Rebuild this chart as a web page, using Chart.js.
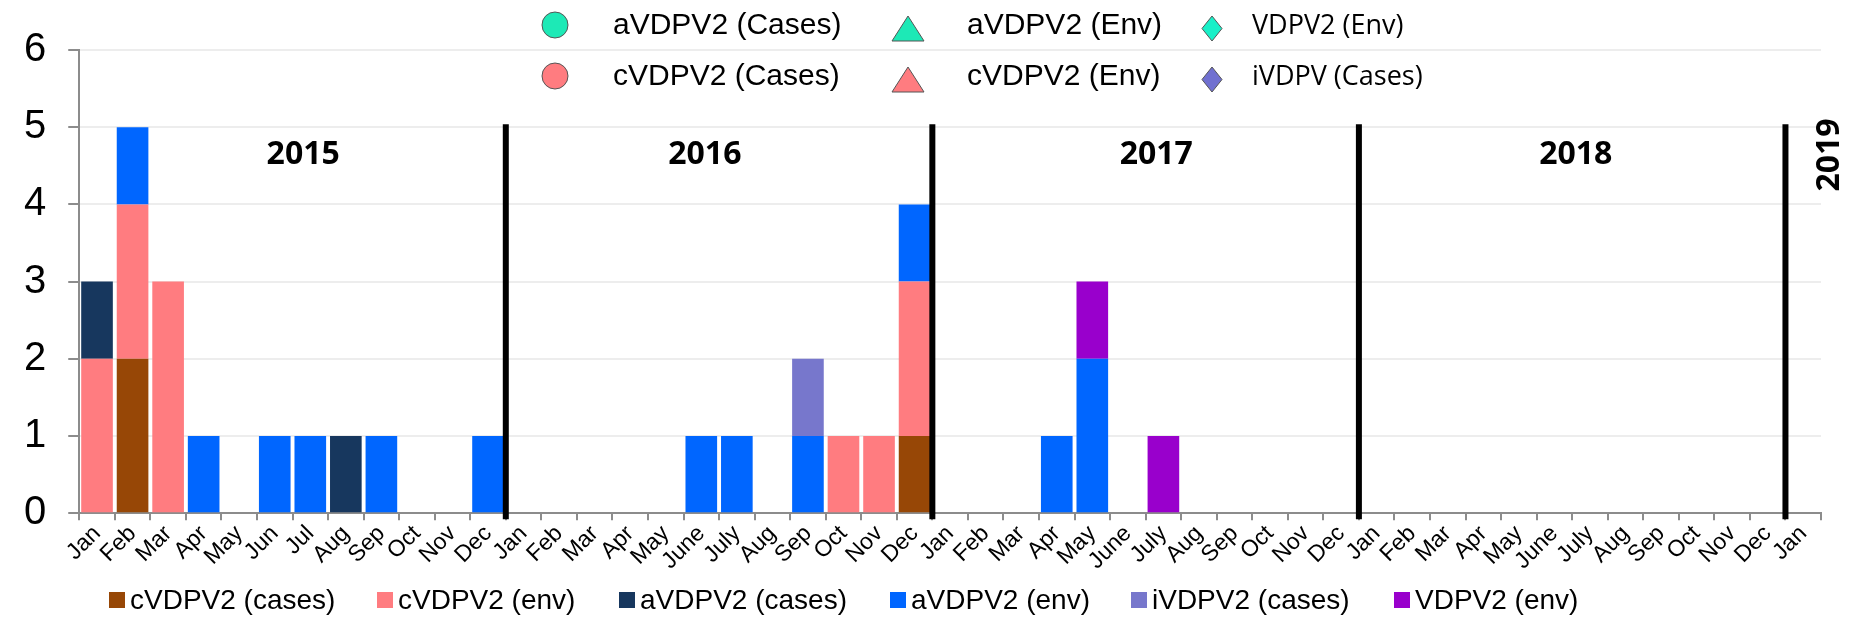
<!DOCTYPE html>
<html>
<head>
<meta charset="utf-8">
<script src="https://cdn.jsdelivr.net/npm/chart.js@4.4.1/dist/chart.umd.min.js"></script>
<style>
  html, body { margin: 0; padding: 0; background: #fff; }
</style>
</head>
<body>
<canvas id="chart" width="1854" height="623"></canvas>
<script>
// month labels: 2015 uses short names, later years use June/July
const months2015 = ['Jan','Feb','Mar','Apr','May','Jun','Jul','Aug','Sep','Oct','Nov','Dec'];
const monthsLater = ['Jan','Feb','Mar','Apr','May','June','July','Aug','Sep','Oct','Nov','Dec'];
const categories = months2015.concat(monthsLater, monthsLater, monthsLater, ['Jan']);

const years = ['2015', '2016', '2017', '2018'];
const lastYear = '2019';

// counts per month, Jan 2015 .. Jan 2019
const cVDPV2Cases = [
  0,2,0,0,0,0,0,0,0,0,0,0,
  0,0,0,0,0,0,0,0,0,0,0,1,
  0,0,0,0,0,0,0,0,0,0,0,0,
  0,0,0,0,0,0,0,0,0,0,0,0,
  0];
const cVDPV2Env = [
  2,2,3,0,0,0,0,0,0,0,0,0,
  0,0,0,0,0,0,0,0,0,1,1,2,
  0,0,0,0,0,0,0,0,0,0,0,0,
  0,0,0,0,0,0,0,0,0,0,0,0,
  0];
const aVDPV2Cases = [
  1,0,0,0,0,0,0,1,0,0,0,0,
  0,0,0,0,0,0,0,0,0,0,0,0,
  0,0,0,0,0,0,0,0,0,0,0,0,
  0,0,0,0,0,0,0,0,0,0,0,0,
  0];
const aVDPV2Env = [
  0,1,0,1,0,1,1,0,1,0,0,1,
  0,0,0,0,0,1,1,0,1,0,0,1,
  0,0,0,1,2,0,0,0,0,0,0,0,
  0,0,0,0,0,0,0,0,0,0,0,0,
  0];
const iVDPV2Cases = [
  0,0,0,0,0,0,0,0,0,0,0,0,
  0,0,0,0,0,0,0,0,1,0,0,0,
  0,0,0,0,0,0,0,0,0,0,0,0,
  0,0,0,0,0,0,0,0,0,0,0,0,
  0];
const VDPV2Env = [
  0,0,0,0,0,0,0,0,0,0,0,0,
  0,0,0,0,0,0,0,0,0,0,0,0,
  0,0,0,0,1,0,1,0,0,0,0,0,
  0,0,0,0,0,0,0,0,0,0,0,0,
  0];

const ARIAL = '"Liberation Sans", Arial, sans-serif';
const CALIBRI = '"Open Sans", "Noto Sans", sans-serif';

function bar(label, data, color) {
  return {
    label: label,
    data: data,
    backgroundColor: color,
    borderWidth: 0,
    barPercentage: 0.89,
    categoryPercentage: 1.0
  };
}

// year dividers + year labels
const yearMarks = {
  id: 'yearMarks',
  afterDatasetsDraw(chart) {
    const {ctx, scales: {x, y}, chartArea} = chart;
    const step = x.getPixelForValue(1) - x.getPixelForValue(0);
    ctx.save();
    ctx.strokeStyle = '#000';
    ctx.lineWidth = 6;
    for (let i = 1; i <= 4; i++) {
      const px = x.getPixelForValue(i * 12) - step / 2;
      ctx.beginPath();
      ctx.moveTo(px, y.getPixelForValue(5) - 3);
      ctx.lineTo(px, chartArea.bottom + 6);
      ctx.stroke();
    }
    ctx.fillStyle = '#000';
    ctx.font = 'bold 32px ' + CALIBRI;
    ctx.textAlign = 'center';
    ctx.textBaseline = 'middle';
    const ly = y.getPixelForValue(4.64);
    const offs = [0.3, -0.4, 0.3, 0.1];
    years.forEach((yr, i) => {
      const cx = x.getPixelForValue(i * 12 + 5.5 + offs[i]);
      ctx.fillText(yr, cx, ly);
    });
    ctx.translate(x.getPixelForValue(48) + 27, ly);
    ctx.rotate(-Math.PI / 2);
    ctx.fillText(lastYear, 0, 0);
    ctx.restore();
  }
};

// marker legend at the top (series drawn as symbols in the original)
const markerItems = [
  {shape: 'circle',   fill: '#1de9b6', text: 'aVDPV2 (Cases)', font: ARIAL,   col: 0, row: 0},
  {shape: 'triangle', fill: '#1de9b6', text: 'aVDPV2 (Env)',   font: ARIAL,   col: 1, row: 0},
  {shape: 'diamond',  fill: '#19f0c8', text: 'VDPV2 (Env)',    font: CALIBRI, col: 2, row: 0},
  {shape: 'circle',   fill: '#ff7c80', text: 'cVDPV2 (Cases)', font: ARIAL,   col: 0, row: 1},
  {shape: 'triangle', fill: '#ff7c80', text: 'cVDPV2 (Env)',   font: ARIAL,   col: 1, row: 1},
  {shape: 'diamond',  fill: '#7070d0', text: 'iVDPV (Cases)',  font: CALIBRI, col: 2, row: 1}
];
const markerLegend = {
  id: 'markerLegend',
  afterDraw(chart) {
    const ctx = chart.ctx;
    const colMarker = [555, 908, 1212];
    const colText = [613, 967, 1252];
    const rowY = [25, 76];
    ctx.save();
    markerItems.forEach(it => {
      const mx = colMarker[it.col], my = rowY[it.row];
      ctx.fillStyle = it.fill;
      ctx.strokeStyle = '#555';
      ctx.lineWidth = 1;
      ctx.beginPath();
      if (it.shape === 'circle') {
        ctx.arc(mx, my, 13, 0, Math.PI * 2);
      } else if (it.shape === 'triangle') {
        ctx.moveTo(mx, my - 9);
        ctx.lineTo(mx + 16, my + 16);
        ctx.lineTo(mx - 16, my + 16);
        ctx.closePath();
      } else {
        ctx.moveTo(mx, my - 9);
        ctx.lineTo(mx + 10, my + 3.5);
        ctx.lineTo(mx, my + 16);
        ctx.lineTo(mx - 10, my + 3.5);
        ctx.closePath();
      }
      ctx.fill();
      ctx.stroke();
      ctx.fillStyle = '#000';
      ctx.textAlign = 'left';
      ctx.textBaseline = 'middle';
      ctx.font = (it.font === ARIAL ? '30px ' : '27px ') + it.font;
      ctx.fillText(it.text, colText[it.col], my + 1);
    });
    ctx.restore();
  }
};

// bar legend along the bottom, built from the datasets
const barLegend = {
  id: 'barLegend',
  afterDraw(chart) {
    const ctx = chart.ctx;
    const boxX = [109, 377, 619, 890, 1131, 1394];
    const cy = 600;
    ctx.save();
    ctx.font = '28px ' + ARIAL;
    ctx.textAlign = 'left';
    ctx.textBaseline = 'middle';
    chart.data.datasets.forEach((ds, i) => {
      ctx.fillStyle = ds.backgroundColor;
      ctx.fillRect(boxX[i], cy - 8, 16, 16);
      ctx.fillStyle = '#000';
      ctx.fillText(ds.label, boxX[i] + 21, cy + 1);
    });
    ctx.restore();
  }
};

new Chart(document.getElementById('chart'), {
  type: 'bar',
  data: {
    labels: categories,
    datasets: [
      bar('cVDPV2 (cases)', cVDPV2Cases, '#974706'),
      bar('cVDPV2 (env)', cVDPV2Env, '#ff7c80'),
      bar('aVDPV2 (cases)', aVDPV2Cases, '#17375e'),
      bar('aVDPV2 (env)', aVDPV2Env, '#0066ff'),
      bar('iVDPV2 (cases)', iVDPV2Cases, '#7777cc'),
      bar('VDPV2 (env)', VDPV2Env, '#9900cc')
    ]
  },
  options: {
    responsive: false,
    animation: false,
    devicePixelRatio: 1,
    layout: { padding: { top: 50, right: 33, left: 2, bottom: 48 } },
    plugins: {
      tooltip: { enabled: false },
      legend: { display: false }
    },
    scales: {
      x: {
        stacked: true,
        grid: { drawOnChartArea: false, tickLength: 7, color: '#8c8c8c', lineWidth: 2 },
        border: { color: '#8c8c8c', width: 2 },
        ticks: {
          autoSkip: false,
          minRotation: 45,
          maxRotation: 45,
          padding: 0,
          color: '#000',
          font: { family: ARIAL, size: 23 }
        }
      },
      y: {
        stacked: true,
        min: 0,
        max: 6,
        grid: { color: '#ededed', lineWidth: 2, tickColor: '#8c8c8c', tickLength: 11 },
        border: { color: '#8c8c8c', width: 2 },
        ticks: {
          stepSize: 1,
          padding: 22,
          color: '#000',
          font: { family: ARIAL, size: 40 }
        }
      }
    }
  },
  plugins: [yearMarks, markerLegend, barLegend]
});
</script>
</body>
</html>
